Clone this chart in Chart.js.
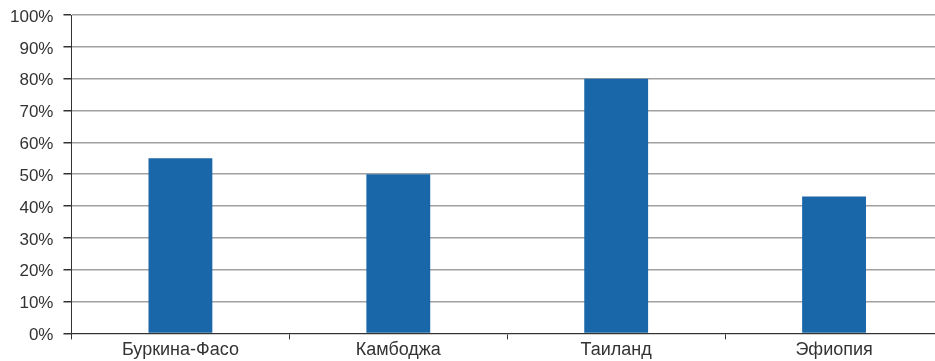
<!DOCTYPE html>
<html>
<head>
<meta charset="utf-8">
<script src="https://cdn.jsdelivr.net/npm/chart.js@4/dist/chart.umd.min.js"></script>
<style>
html,body{margin:0;padding:0;background:#fff;overflow:hidden;}
#wrap{width:935px;height:361px;overflow:hidden;}
</style>
</head>
<body>
<div id="wrap"><canvas id="c" width="944" height="361"></canvas></div>
<script>
const categories = ["Буркина-Фасо", "Камбоджа", "Таиланд", "Эфиопия"];
const values = [55, 50, 80, 43];
const yTicks = [0, 10, 20, 30, 40, 50, 60, 70, 80, 90, 100];

Chart.defaults.font.family = "'Liberation Sans', Arial, sans-serif";
Chart.defaults.color = "#333333";

new Chart(document.getElementById("c"), {
  type: "bar",
  data: {
    labels: categories,
    datasets: [{
      data: values,
      backgroundColor: "#1967a9",
      borderWidth: 0,
      categoryPercentage: 0.293,
      barPercentage: 1.0
    }]
  },
  options: {
    responsive: false,
    animation: false,
    devicePixelRatio: 1,
    layout: { padding: { top: 15, right: 1, left: 0, bottom: 0 } },
    plugins: { legend: { display: false }, tooltip: { enabled: false } },
    scales: {
      x: {
        offset: true,
        grid: {
          offset: true,
          drawOnChartArea: false,
          drawTicks: true,
          tickLength: 6,
          color: "#333333"
        },
        border: { color: "#333333", width: 1 },
        ticks: { padding: 0, color: "#333333", maxRotation: 0, font: { size: 18 } }
      },
      y: {
        min: 0,
        max: 100,
        afterBuildTicks: (axis) => { axis.ticks = yTicks.map(v => ({ value: v })); },
        grid: {
          color: "#a0a0a0",
          lineWidth: 1.5,
          tickLength: 8,
          tickColor: "#333333"
        },
        border: { color: "#333333", width: 1 },
        ticks: {
          padding: 10,
          color: "#333333",
          labelOffset: 2,
          font: { size: 17, lineHeight: 0.5 },
          callback: (v) => v + "%"
        }
      }
    }
  }
});
</script>
</body>
</html>
